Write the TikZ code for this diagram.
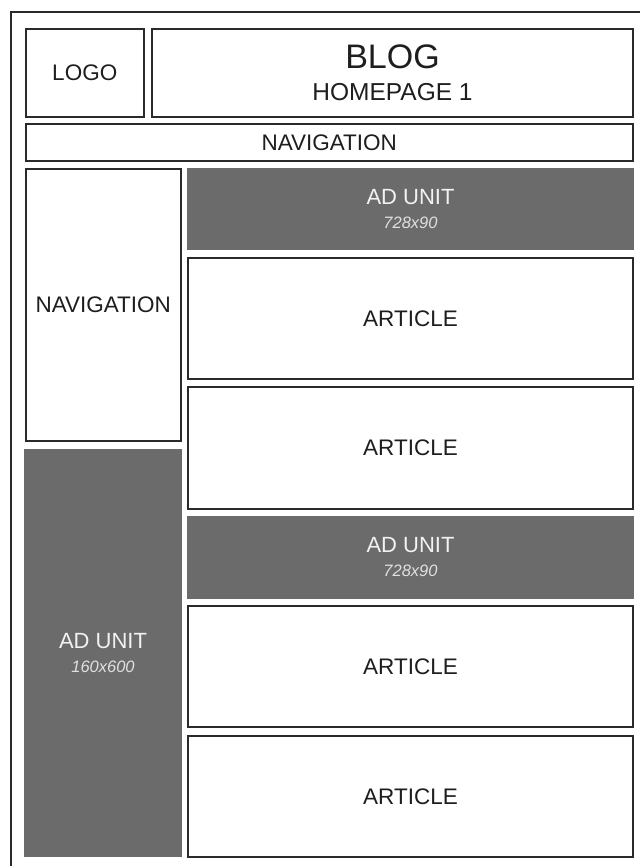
\documentclass[tikz,border=0pt]{standalone}
\usepackage{fontspec}
\setmainfont{Liberation Sans}
\usetikzlibrary{positioning}
\definecolor{adgray}{HTML}{6B6B6B}
\definecolor{linegray}{HTML}{2A2A2A}
\definecolor{labelgray}{HTML}{1E1E1E}
\tikzstyle{block} = [rectangle, draw=linegray, line width=2pt, fill=white,
    inner sep=0pt, outer sep=0pt, align=center, text=labelgray,
    font=\fontsize{22.5}{26}\selectfont]
\tikzstyle{adblock} = [rectangle, fill=adgray, inner sep=0pt, outer sep=0pt,
    align=center, text=white!95!black, font=\fontsize{22}{24}\selectfont]
\newcommand{\adsize}[1]{{\fontsize{16.5}{16.5}\selectfont\itshape\color{white!88!black}#1}}

\begin{document}
\begin{tikzpicture}[x=1pt, y=-1pt, node distance=8pt]
    \useasboundingbox (0,0) rectangle (640,866);
    % Page frame
    \draw [linegray, line width=2pt] (11,866) -- (11,12) -- (640,12);
    % Header
    \node [block, anchor=north west, minimum width=118.5pt, minimum height=88pt] at (25.5,29) (Logo) {LOGO};
    \node [block, anchor=north west, minimum width=481pt, minimum height=88pt] at (152,29) (Title)
        {{\fontsize{34}{34}\selectfont BLOG}\\[6pt]{\fontsize{24.5}{24.5}\selectfont HOMEPAGE 1}};
    \node [block, anchor=north west, minimum width=607.5pt, minimum height=37pt] at (25.5,124) (TopNav) {NAVIGATION};
    % Sidebar
    \node [block, anchor=north west, minimum width=155.5pt, minimum height=272pt] at (25.5,169) (SideNav) {NAVIGATION};
    \node [adblock, anchor=north west, minimum width=158pt, minimum height=408pt] at (24,449) (SideAd)
        {AD UNIT\\\adsize{160x600}};
    % Main column
    \node [adblock, anchor=north west, minimum width=447pt, minimum height=82pt] at (187,168) (TopAd)
        {AD UNIT\\\adsize{728x90}};
    \node [block, below=of TopAd, minimum width=444.5pt, minimum height=121pt] (ArticleA) {ARTICLE};
    \node [block, below=of ArticleA, minimum width=444.5pt, minimum height=122pt] (ArticleB) {ARTICLE};
    \node [adblock, below=7pt of ArticleB, minimum width=447pt, minimum height=83pt] (MidAd)
        {AD UNIT\\\adsize{728x90}};
    \node [block, below=7pt of MidAd, minimum width=444.5pt, minimum height=121pt] (ArticleC) {ARTICLE};
    \node [block, below=9pt of ArticleC, minimum width=444.5pt, minimum height=121pt] (ArticleD) {ARTICLE};
\end{tikzpicture}
\end{document}
